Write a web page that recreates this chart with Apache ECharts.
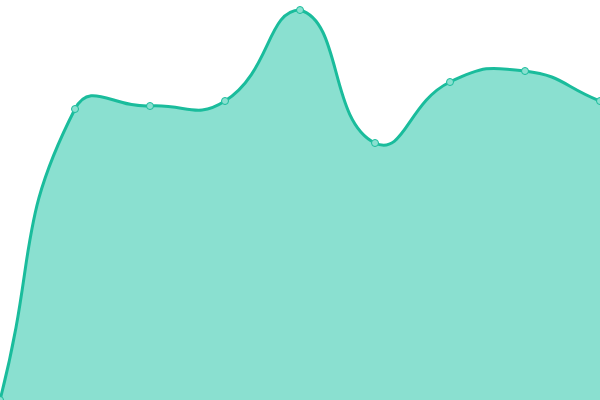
<!DOCTYPE html>
<html>
<head>
<meta charset="utf-8">
<script src="https://cdn.jsdelivr.net/npm/echarts@6/dist/echarts.min.js"></script>
<style>html,body{margin:0;padding:0;background:#fff}#c{width:600px;height:400px}</style>
</head>
<body>
<div id="c"></div>
<script>
var categories = ['1','2','3','4','5','6','7','8','9'];
var values = [0, 291, 294, 299, 390, 257, 318, 329, 299];
var lineColor = '#1abc9c';
var areaColor = '#8ae0d0';
var smoothness = 0.5;

function smoothPath(api) {
  var pts = values.map(function (v, i) { return api.coord([i, v]); });
  var n = pts.length;
  var minX = Infinity, minY = Infinity, maxX = -Infinity, maxY = -Infinity;
  pts.forEach(function (p) {
    minX = Math.min(minX, p[0]); maxX = Math.max(maxX, p[0]);
    minY = Math.min(minY, p[1]); maxY = Math.max(maxY, p[1]);
  });
  function clamp(p) {
    return [Math.min(maxX, Math.max(minX, p[0])), Math.min(maxY, Math.max(minY, p[1]))];
  }
  var cps = [];
  for (var i = 0; i < n; i++) {
    var p = pts[i];
    var prev = pts[i - 1] || p;
    var next = pts[i + 1] || p;
    var vx = (next[0] - prev[0]) * smoothness, vy = (next[1] - prev[1]) * smoothness;
    var d0 = Math.hypot(p[0] - prev[0], p[1] - prev[1]);
    var d1 = Math.hypot(next[0] - p[0], next[1] - p[1]);
    var s = d0 + d1;
    if (s) { d0 /= s; d1 /= s; }
    cps.push({
      c0: clamp([p[0] - vx * d0, p[1] - vy * d0]),
      c1: clamp([p[0] + vx * d1, p[1] + vy * d1])
    });
  }
  var d = 'M' + pts[0][0] + ' ' + pts[0][1];
  for (var j = 1; j < n; j++) {
    var a = cps[j - 1].c1, b = cps[j].c0, q = pts[j];
    d += ' C' + a[0] + ' ' + a[1] + ' ' + b[0] + ' ' + b[1] + ' ' + q[0] + ' ' + q[1];
  }
  var base0 = api.coord([0, 0]);
  var baseN = api.coord([n - 1, 0]);
  var area = d + ' L' + baseN[0] + ' ' + baseN[1] + ' L' + base0[0] + ' ' + base0[1] + ' Z';
  return {line: d, area: area};
}

var chart = echarts.init(document.getElementById('c'));
chart.setOption({
  animation: false,
  grid: {left: 0, right: 0, top: 0, bottom: 0},
  xAxis: {type: 'category', data: categories, boundaryGap: false, show: false},
  yAxis: {type: 'value', min: 0, max: 400, show: false},
  series: [{
    type: 'custom',
    data: [0],
    z: 1,
    renderItem: function (params, api) {
      var p = smoothPath(api);
      return {
        type: 'group',
        children: [
          {type: 'path', shape: {pathData: p.area}, style: {fill: areaColor, stroke: null}},
          {type: 'path', shape: {pathData: p.line}, style: {fill: null, stroke: lineColor, lineWidth: 3}}
        ]
      };
    }
  }, {
    type: 'line',
    data: values,
    z: 2,
    symbol: 'circle',
    symbolSize: 7,
    itemStyle: {color: areaColor, borderColor: lineColor, borderWidth: 1},
    lineStyle: {width: 0, opacity: 0}
  }]
});
</script>
</body>
</html>
